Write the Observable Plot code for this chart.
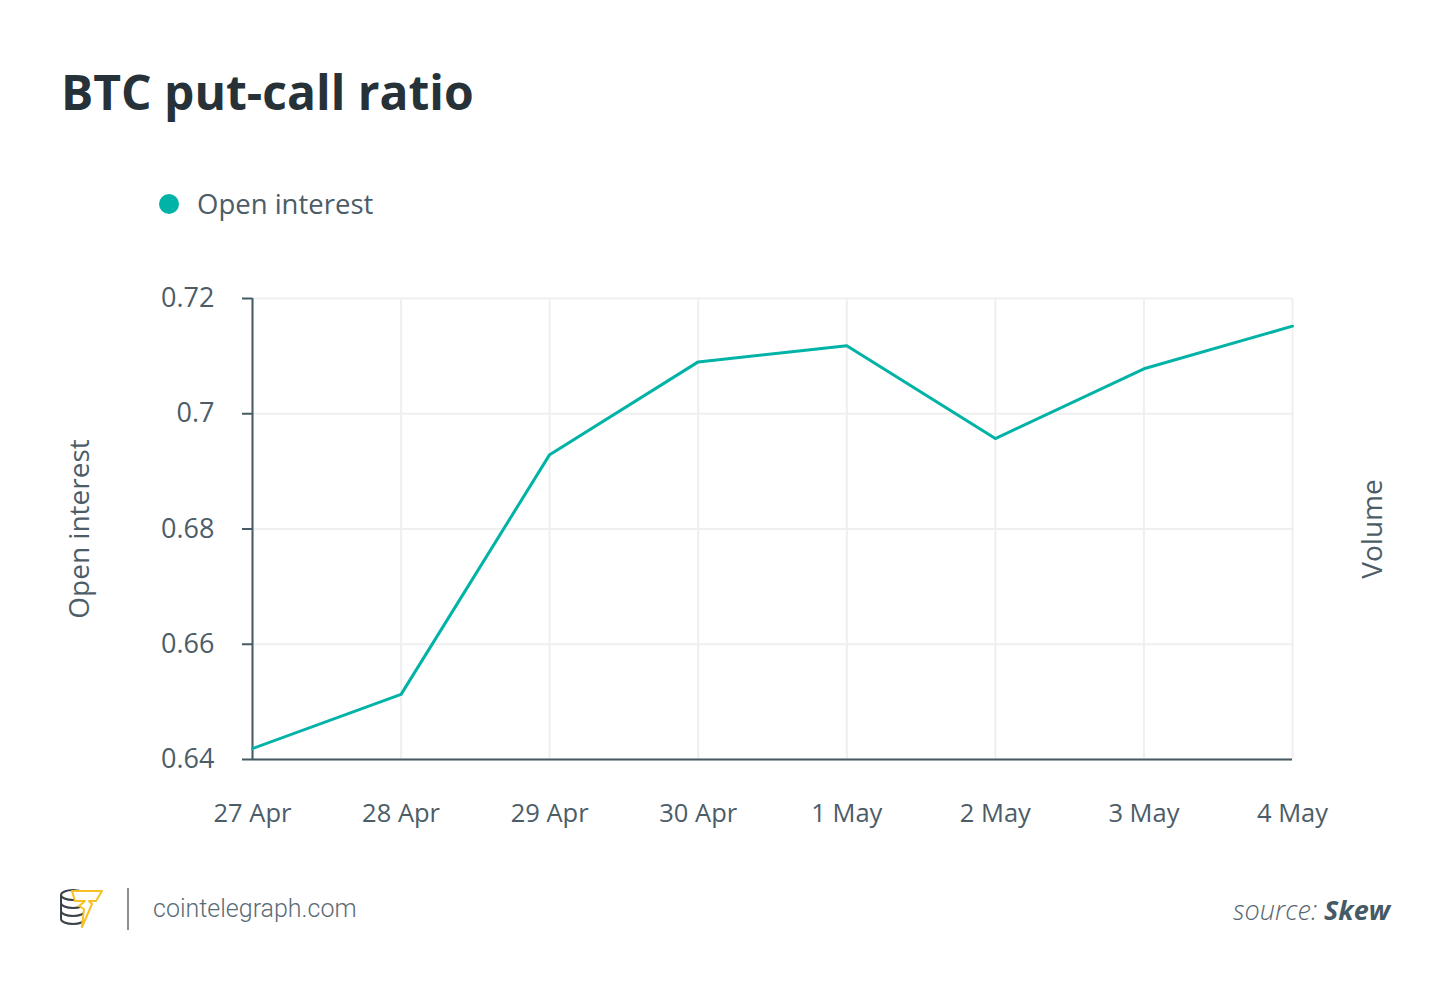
<!DOCTYPE html>
<html>
<head>
<meta charset="utf-8">
<script src="https://cdn.jsdelivr.net/npm/d3@7"></script>
<script src="https://cdn.jsdelivr.net/npm/@observablehq/plot@0.6"></script>
<style>
  html, body { margin: 0; padding: 0; background: #fff; }
  #page { position: relative; width: 1450px; height: 990px; font-family: "Open Sans", sans-serif; overflow: hidden; }
  #title { position: absolute; left: 61px; top: 68px; font-size: 48px; font-weight: 700; color: #263238; line-height: 1; margin: 0; }
  #legend { position: absolute; left: 159px; top: 190px; font-size: 27.5px; color: #4c5d68; display: flex; align-items: center; line-height: 1; }
  #legend .dot { width: 20px; height: 20px; border-radius: 50%; background: #00b3a6; margin-right: 18px; }
  #chart { position: absolute; left: 0; top: 250px; }
  #footer-logo { position: absolute; left: 58px; top: 886px; }
  #divider { position: absolute; left: 127px; top: 888px; width: 2px; height: 42px; background: #8a8f93; }
  #site { position: absolute; left: 153px; top: 896px; font-family: Roboto, sans-serif; font-weight: 300; font-size: 25px; color: #5b6b76; line-height: 1; }
  #source { position: absolute; right: 60px; top: 896px; font-size: 27px; font-style: italic; color: #546570; line-height: 1; font-weight: 300; }
  #source b { font-weight: 700; color: #455a64; }
</style>
</head>
<body>
<div id="page">
  <div id="title">BTC put-call ratio</div>
  <div id="legend"><span class="dot"></span><span>Open interest</span></div>
  <div id="chart"></div>
  <svg id="footer-logo" width="48" height="44" viewBox="0 0 48 44">
    <g fill="none" stroke="#3b4247" stroke-width="2">
      <ellipse cx="15" cy="9" rx="12" ry="5"/>
      <path d="M3 9 v24 a12 5 0 0 0 24 0 v-24"/>
      <path d="M3 17 a12 5 0 0 0 24 0"/>
      <path d="M3 25 a12 5 0 0 0 24 0"/>
    </g>
    <path d="M14 5 H44 L38 15 H31 L34 18 L24 41 L26 23 L21 20 L27 15 H17 Z" fill="#fff" stroke="#f5c125" stroke-width="2" stroke-linejoin="round"/>
  </svg>
  <div id="divider"></div>
  <div id="site">cointelegraph.com</div>
  <div id="source">source: <b>Skew</b></div>
</div>
<script>
const dates = ["27 Apr", "28 Apr", "29 Apr", "30 Apr", "1 May", "2 May", "3 May", "4 May"];
const openInterest = [0.6419, 0.6513, 0.6929, 0.7090, 0.7118, 0.6957, 0.7078, 0.7152];
const yTicks = [0.64, 0.66, 0.68, 0.70, 0.72];
const yTickLabels = ["0.64", "0.66", "0.68", "0.7", "0.72"];

const data = dates.map((d, i) => ({date: d, value: openInterest[i]}));
const axisColor = "#455a64";
const textColor = "#4c5d68";

const chart = Plot.plot({
  width: 1450,
  height: 600,
  marginLeft: 252,
  marginRight: 158,
  marginTop: 48,
  marginBottom: 91,
  style: {fontFamily: "Open Sans, sans-serif", fontSize: "27px", color: textColor, background: "transparent"},
  x: {type: "point", domain: dates, padding: 0, round: false},
  y: {domain: [0.64, 0.72]},
  marks: [
    Plot.ruleY(yTicks, {stroke: "#efefef", strokeWidth: 2}),
    Plot.ruleX(dates, {stroke: "#efefef", strokeWidth: 2}),
    Plot.axisY({
      ticks: yTicks,
      tickFormat: (d) => yTickLabels[yTicks.indexOf(d)] ?? d,
      tickSize: 10,
      tickPadding: 28,
      stroke: axisColor,
      strokeWidth: 2,
      fill: textColor,
      fontSize: 27,
      label: null
    }),
    Plot.axisX({
      tickSize: 0,
      tickPadding: 44,
      fill: textColor,
      fontSize: 25.5,
      label: null
    }),
    Plot.ruleX([dates[0]], {stroke: axisColor, strokeWidth: 2}),
    Plot.ruleY([0.64], {stroke: axisColor, strokeWidth: 2}),
    Plot.line(data, {x: "date", y: "value", stroke: "#00b3a6", strokeWidth: 3}),
    Plot.text(["Open interest"], {frameAnchor: "left", textAnchor: "middle", dx: -172, rotate: -90, fill: textColor, fontSize: 28}),
    Plot.text(["Volume"], {frameAnchor: "right", textAnchor: "middle", dx: 81, rotate: -90, fill: textColor, fontSize: 28})
  ]
});
document.getElementById("chart").appendChild(chart);
</script>
</body>
</html>
